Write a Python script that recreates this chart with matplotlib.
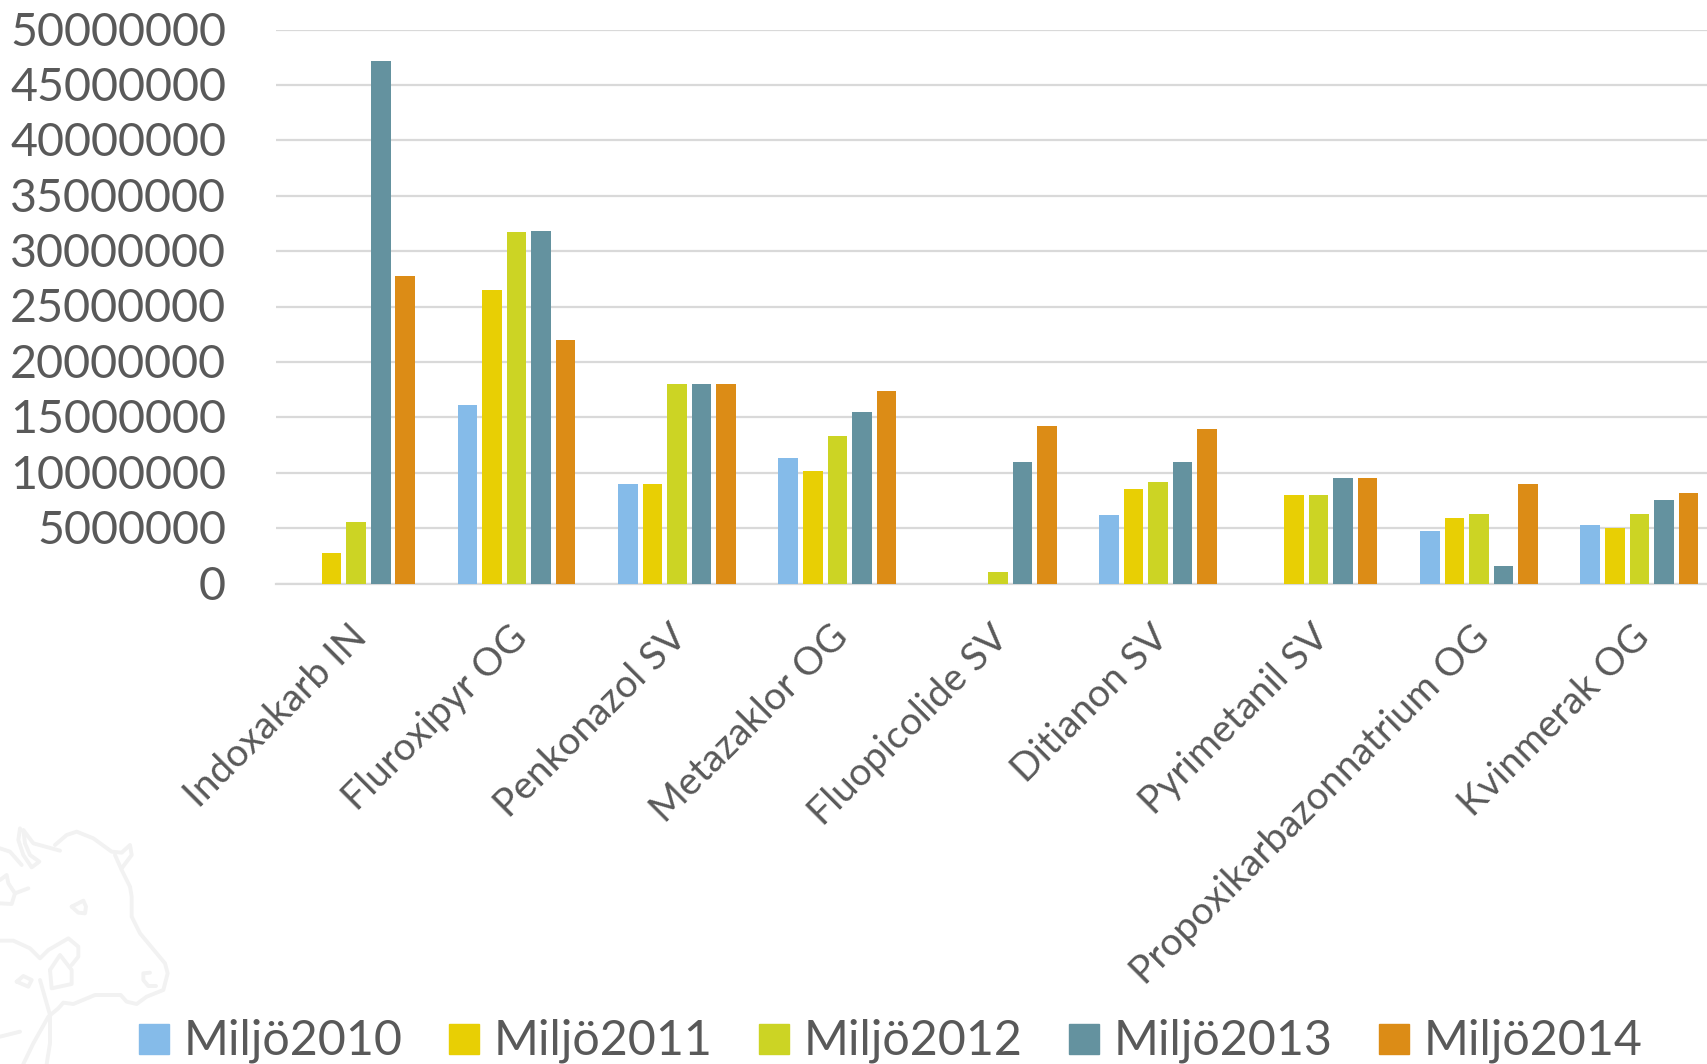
import matplotlib
matplotlib.use('Agg')
import matplotlib.pyplot as plt
from matplotlib.lines import Line2D
from matplotlib.patches import Rectangle
from matplotlib.transforms import ScaledTranslation
import numpy as np

substances = ['Indoxakarb IN', 'Fluroxipyr OG', 'Penkonazol SV', 'Metazaklor OG', 'Fluopicolide SV',
              'Ditianon SV', 'Pyrimetanil SV', 'Propoxikarbazonnatrium OG', 'Kvinmerak OG']
series_names = ['Miljö2010', 'Miljö2011', 'Miljö2012', 'Miljö2013', 'Miljö2014']

# amounts per substance, 0 where nothing was reported
miljo2010 = [0, 16100000, 9000000, 11300000, 0, 6150000, 0, 4700000, 5300000]
miljo2011 = [2750000, 26500000, 9000000, 10150000, 0, 8500000, 8000000, 5900000, 5000000]
miljo2012 = [5550000, 31700000, 18000000, 13300000, 1050000, 9200000, 8000000, 6300000, 6250000]
miljo2013 = [47150000, 31800000, 18000000, 15500000, 11000000, 11000000, 9500000, 1600000, 7500000]
miljo2014 = [27750000, 22000000, 18000000, 17400000, 14200000, 13950000, 9500000, 9000000, 8200000]
y_ticks = list(range(0, 50000001, 5000000))

colors = ['#85BBE9', '#E8CF04', '#CCD424', '#64929F', '#DC8C16']
TEXT_COLOR = '#595959'
GRID_COLOR = '#D9D9D9'
WIDTH, HEIGHT = 1707, 1064

plt.rcParams['font.family'] = ['Lato', 'DejaVu Sans']

fig = plt.figure(figsize=(WIDTH / 100, HEIGHT / 100), dpi=100)
# the plot area runs a little past the right edge of the figure
ax = fig.add_axes([276 / WIDTH, 1 - 583.5 / HEIGHT, (1719.5 - 276) / WIDTH, (583.5 - 29.5) / HEIGHT])

x = np.arange(len(substances))
bar_step = 0.153
bar_width = 0.122
all_series = [miljo2010, miljo2011, miljo2012, miljo2013, miljo2014]
for i, values in enumerate(all_series):
    ax.bar(x + (i - 2) * bar_step, values, bar_width, color=colors[i], zorder=3)

ax.set_xlim(-0.5, 8.5)
ax.set_ylim(0, 50000000)
ax.set_yticks(y_ticks)
ax.set_yticklabels([str(t) for t in y_ticks], fontsize=33.6, color=TEXT_COLOR)
ax.set_xticks(x)
ax.set_xticklabels(substances, fontsize=28, color=TEXT_COLOR, rotation=45, ha='right',
                   va='top', rotation_mode='anchor')
ax.tick_params(axis='both', length=0)
ax.tick_params(axis='y', pad=36)
ax.tick_params(axis='x', pad=24)

# nudge the tick labels, the rotated ones sit left of their ticks
x_nudge = ScaledTranslation(-8 / 100, -2 / 100, fig.dpi_scale_trans)
for label in ax.get_xticklabels():
    label.set_transform(label.get_transform() + x_nudge)
y_nudge = ScaledTranslation(0, 1 / 100, fig.dpi_scale_trans)
for label in ax.get_yticklabels():
    label.set_transform(label.get_transform() + y_nudge)

ax.grid(axis='y', color=GRID_COLOR, linewidth=1.6, zorder=0)
ax.axhline(0, color=GRID_COLOR, linewidth=1.6, zorder=1, clip_on=False)
ax.set_axisbelow(True)
for spine in ax.spines.values():
    spine.set_visible(False)

# faint cow logo in the lower left corner
logo_strokes = [
    [(60, 145), (55, 180), (70, 225), (95, 262), (118, 245), (90, 225), (75, 190), (70, 150), (100, 190), (180, 212)],
    [(165, 195), (200, 165), (230, 155), (280, 175), (335, 215), (365, 218), (390, 195), (395, 225), (365, 265)],
    [(345, 225), (365, 270), (390, 320), (395, 350), (395, 410), (420, 460), (495, 550), (503, 580), (490, 630),
     (440, 650), (410, 672), (380, 665), (362, 645), (285, 645), (220, 672), (190, 668), (175, 685), (145, 710),
     (100, 790), (70, 852)],
    [(215, 380), (250, 362), (258, 380), (255, 400), (235, 398), (215, 380)],
    [(450, 578), (430, 580), (430, 600), (445, 618), (468, 618)],
    [(0, 482), (40, 482), (90, 505), (120, 535), (145, 510), (205, 475), (235, 500), (235, 530), (215, 555)],
    [(150, 570), (180, 525), (215, 570), (215, 612), (155, 625), (150, 570)],
    [(120, 600), (150, 705), (150, 790), (140, 852)],
    [(0, 205), (30, 215), (65, 255)],
    [(0, 370), (35, 372), (45, 340), (85, 325)],
    [(45, 340), (25, 310), (20, 285), (0, 300)],
    [(50, 605), (70, 588), (95, 600), (85, 620), (50, 605)],
    [(0, 770), (60, 755)],
]
for stroke in logo_strokes:
    px = np.array(stroke, dtype=float) / 3
    fig.add_artist(Line2D(px[:, 0] / WIDTH, 1 - (780 + px[:, 1]) / HEIGHT, color='#F2F2F2', linewidth=2.8,
                          solid_capstyle='round', solid_joinstyle='round', transform=fig.transFigure, zorder=0))

# legend row along the bottom
for i, name in enumerate(series_names):
    left = 139 + i * 310
    fig.add_artist(Rectangle((left / WIDTH, 1 - 1054 / HEIGHT), 30 / WIDTH, 30 / HEIGHT, color=colors[i],
                             transform=fig.transFigure))
    fig.text((left + 45) / WIDTH, 1 - 1041 / HEIGHT, name, fontsize=34.8, color=TEXT_COLOR, va='center', ha='left')

fig.savefig('out.png', dpi=100)
